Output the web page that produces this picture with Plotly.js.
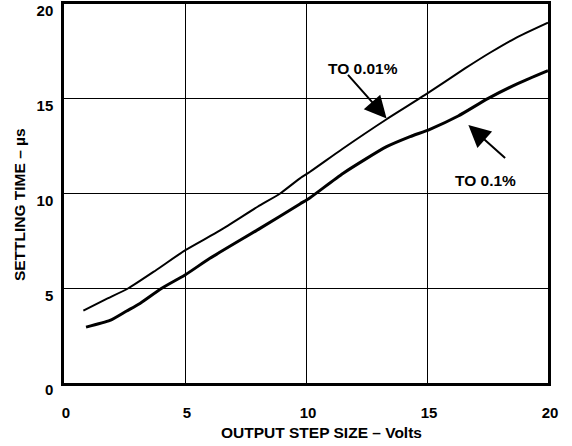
<!DOCTYPE html>
<html>
<head>
<meta charset="utf-8">
<script src="https://cdn.plot.ly/plotly-3.0.1.min.js"></script>
<style>html,body{margin:0;padding:0;background:#fff;}#chart{width:572px;height:446px;}</style>
</head>
<body>
<div id="chart"></div>
<script>
// Settling time to 0.01%
const stepX001 = [0.8, 1.7, 2.66, 3.8, 5.0, 6.45, 8.0, 8.93, 9.75, 10.17, 11.5, 13.33, 14.92, 16.57, 17.67, 18.64, 20];
const settle001 = [3.82, 4.4, 5.0, 5.95, 7.0, 8.05, 9.3, 10.0, 10.8, 11.15, 12.35, 13.92, 15.2, 16.6, 17.48, 18.19, 19.01];
// Settling time to 0.1%
const stepX01 = [0.91, 1.9, 2.59, 3.14, 4.04, 5.0, 6.03, 8.1, 9.75, 10.17, 11.54, 13.33, 14.3, 15.12, 16.29, 17.53, 18.77, 20];
const settle01 = [2.95, 3.3, 3.8, 4.2, 5.0, 5.7, 6.58, 8.16, 9.45, 9.78, 11.07, 12.47, 13.0, 13.39, 14.09, 15.02, 15.81, 16.48];

const tickVals = [0, 5, 10, 15, 20];
const tickText = ['0', '5', '10', '15', '20'];
const labels = ['TO 0.01%', 'TO 0.1%'];

const FONT = 'Liberation Sans, Arial, Helvetica, sans-serif';

const traces = [
  {x: stepX001, y: settle001, mode: 'lines', line: {color: '#000', width: 2, shape: 'spline', smoothing: 0.6}, hoverinfo: 'skip'},
  {x: stepX01, y: settle01, mode: 'lines', line: {color: '#000', width: 3, shape: 'spline', smoothing: 0.6}, hoverinfo: 'skip'}
];

const axisCommon = {
  range: [0, 20], tickvals: tickVals, ticktext: tickText,
  showgrid: true, gridcolor: '#000', gridwidth: 1,
  zeroline: false, showline: true, linecolor: '#000', linewidth: 2.7, mirror: true,
  ticks: '', fixedrange: true,
  tickfont: {family: FONT, size: 15, color: '#000', weight: 'bold'}
};

const layout = {
  width: 572, height: 446,
  margin: {l: 64, r: 24, t: 4, b: 63},
  paper_bgcolor: '#fff', plot_bgcolor: '#fff',
  showlegend: false,
  xaxis: Object.assign({}, axisCommon, {ticklabelstandoff: 14, ticklabelshift: 2}),
  yaxis: Object.assign({}, axisCommon, {ticklabelstandoff: 5, ticklabelshift: 7}),
  annotations: [
    {xref: 'paper', yref: 'paper', x: 0.5325, y: -0.131, xanchor: 'center', yanchor: 'middle', showarrow: false,
     text: 'OUTPUT STEP SIZE – Volts', font: {family: FONT, size: 15.5, color: '#000', weight: 'bold'}},
    {xref: 'paper', yref: 'paper', x: -0.093, y: 0.472, xanchor: 'center', yanchor: 'middle', showarrow: false, textangle: -90,
     text: 'SETTLING TIME – µs', font: {family: FONT, size: 15.5, color: '#000', weight: 'bold'}},
    {xref: 'x', yref: 'y', x: 12.355, y: 16.6, showarrow: false, xanchor: 'center', yanchor: 'middle',
     text: labels[0], font: {family: FONT, size: 15.5, color: '#000', weight: 'bold'}},
    {xref: 'x', yref: 'y', x: 17.4, y: 10.71, showarrow: false, xanchor: 'center', yanchor: 'middle',
     text: labels[1], font: {family: FONT, size: 15.5, color: '#000', weight: 'bold'}},
    {xref: 'x', yref: 'y', x: 13.33, y: 13.96, axref: 'x', ayref: 'y', ax: 11.68, ay: 16.34, text: '',
     showarrow: true, arrowhead: 2, arrowsize: 2.2, arrowwidth: 2, arrowcolor: '#000', standoff: 0},
    {xref: 'x', yref: 'y', x: 16.71, y: 13.61, axref: 'x', ayref: 'y', ax: 18.29, ay: 11.8, text: '',
     showarrow: true, arrowhead: 2, arrowsize: 2.2, arrowwidth: 2, arrowcolor: '#000', standoff: 0}
  ]
};

Plotly.newPlot('chart', traces, layout, {staticPlot: true, displayModeBar: false});
</script>
</body>
</html>
